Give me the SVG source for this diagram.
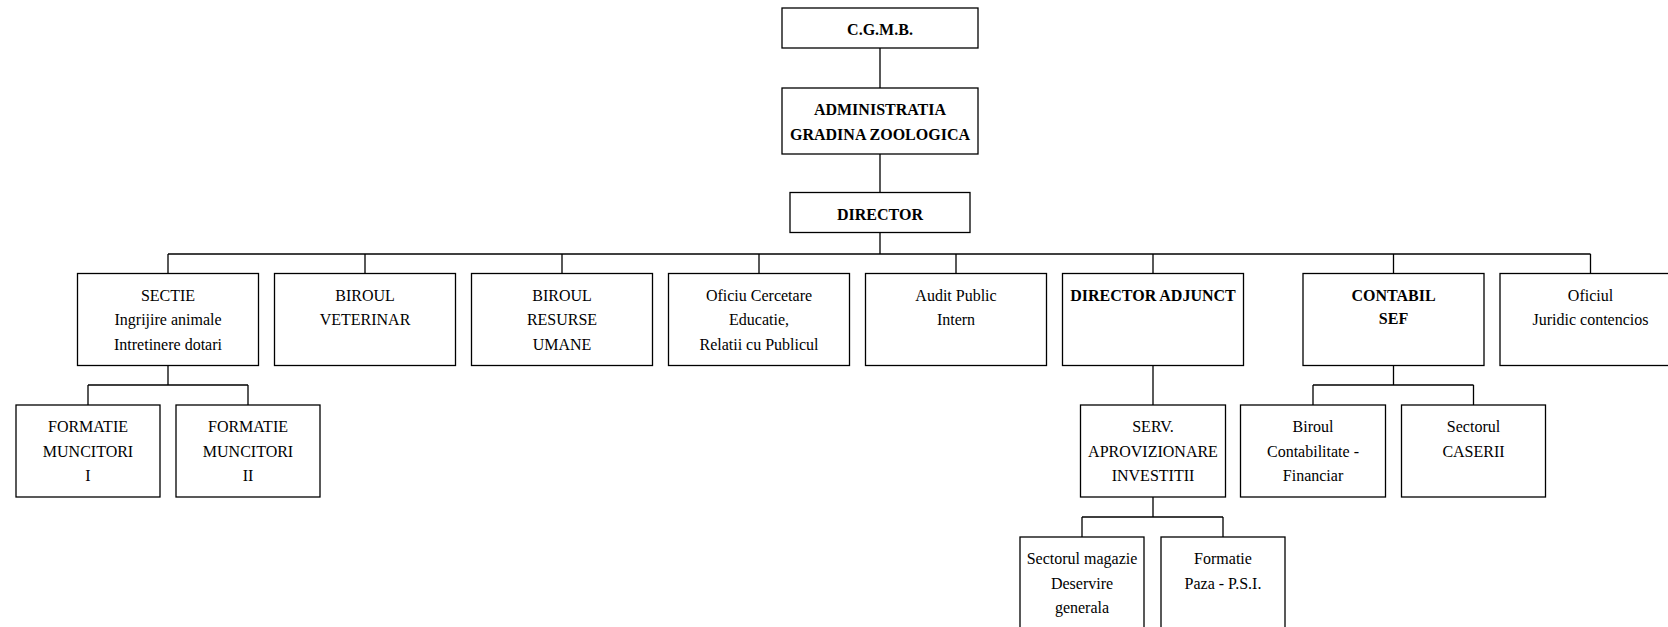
<svg xmlns="http://www.w3.org/2000/svg" width="1668" height="627" viewBox="0 0 1668 627">
<style>
rect{fill:#fff;stroke:#000;stroke-width:1.3}
.c path{fill:none;stroke:#000;stroke-width:1.3}
text{font-family:"Liberation Serif","Times New Roman",serif;font-size:16px;fill:#000;text-anchor:middle}
.b{font-weight:bold}
</style>
<rect x="0" y="0" width="1668" height="627" style="stroke:none"/>
<g class="c" id="connectors">
<path d="M880 48V88M880 154V192.5M880 232.5V254"/>
<path d="M168 254H1590.5"/>
<path d="M168 254V273.5M365 254V273.5M562 254V273.5M759 254V273.5M956 254V273.5M1153 254V273.5M1393.5 254V273.5M1590.5 254V273.5"/>
<path d="M168 365.5V385M88 385H248M88 385V405M248 385V405"/>
<path d="M1153 365.5V405"/>
<path d="M1393.5 365.5V385M1313 385H1473.5M1313 385V405M1473.5 385V405"/>
<path d="M1153 497V517M1082 517H1223M1082 517V537M1223 517V537"/>
</g>
<g id="cgmb"><rect x="782" y="8" width="196" height="40"/><text class="b" x="880" y="35">C.G.M.B.</text></g>
<g id="admin"><rect x="782" y="88" width="196" height="66"/><text class="b" x="880" y="115">ADMINISTRATIA</text><text class="b" x="880" y="140">GRADINA ZOOLOGICA</text></g>
<g id="director"><rect x="790" y="192.5" width="180" height="40"/><text class="b" x="880" y="220">DIRECTOR</text></g>
<g id="sectie"><rect x="77.5" y="273.5" width="181" height="92"/><text x="168" y="300.5">SECTIE</text><text x="168" y="325">Ingrijire animale</text><text x="168" y="349.5">Intretinere dotari</text></g>
<g id="veterinar"><rect x="274.5" y="273.5" width="181" height="92"/><text x="365" y="300.5">BIROUL</text><text x="365" y="325">VETERINAR</text></g>
<g id="resurse"><rect x="471.5" y="273.5" width="181" height="92"/><text x="562" y="300.5">BIROUL</text><text x="562" y="325">RESURSE</text><text x="562" y="349.5">UMANE</text></g>
<g id="oficiu"><rect x="668.5" y="273.5" width="181" height="92"/><text x="759" y="300.5">Oficiu Cercetare</text><text x="759" y="325">Educatie,</text><text x="759" y="349.5">Relatii cu Publicul</text></g>
<g id="audit"><rect x="865.5" y="273.5" width="181" height="92"/><text x="956" y="300.5">Audit Public</text><text x="956" y="325">Intern</text></g>
<g id="director-adjunct"><rect x="1062.5" y="273.5" width="181" height="92"/><text class="b" x="1153" y="300.5">DIRECTOR ADJUNCT</text></g>
<g id="contabil"><rect x="1303" y="273.5" width="181" height="92"/><text class="b" x="1393.5" y="300.5">CONTABIL</text><text class="b" x="1393.5" y="324">SEF</text></g>
<g id="juridic"><rect x="1500" y="273.5" width="181" height="92"/><text x="1590.5" y="300.5">Oficiul</text><text x="1590.5" y="325">Juridic contencios</text></g>
<g id="formatie1"><rect x="16" y="405" width="144" height="92"/><text x="88" y="432">FORMATIE</text><text x="88" y="456.5">MUNCITORI</text><text x="88" y="481">I</text></g>
<g id="formatie2"><rect x="176" y="405" width="144" height="92"/><text x="248" y="432">FORMATIE</text><text x="248" y="456.5">MUNCITORI</text><text x="248" y="481">II</text></g>
<g id="serv"><rect x="1080.5" y="405" width="145" height="92"/><text x="1153" y="432">SERV.</text><text x="1153" y="456.5">APROVIZIONARE</text><text x="1153" y="481">INVESTITII</text></g>
<g id="biroul-contabilitate"><rect x="1240.5" y="405" width="145" height="92"/><text x="1313" y="432">Biroul</text><text x="1313" y="456.5">Contabilitate -</text><text x="1313" y="481">Financiar</text></g>
<g id="caserii"><rect x="1401.5" y="405" width="144" height="92"/><text x="1473.5" y="432">Sectorul</text><text x="1473.5" y="456.5">CASERII</text></g>
<g id="magazie"><rect x="1020" y="537" width="124" height="95"/><text x="1082" y="564">Sectorul magazie</text><text x="1082" y="588.5">Deservire</text><text x="1082" y="613">generala</text></g>
<g id="paza"><rect x="1161" y="537" width="124" height="95"/><text x="1223" y="564">Formatie</text><text x="1223" y="588.5">Paza - P.S.I.</text></g>
</svg>
